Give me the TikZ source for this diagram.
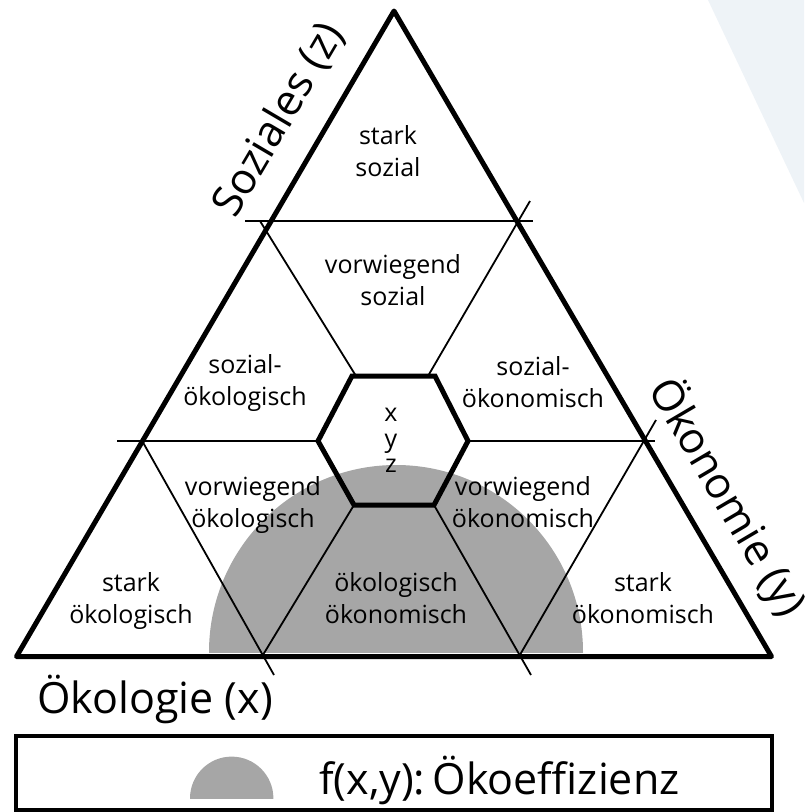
\documentclass[tikz,border=0pt]{standalone}
\usepackage{fontspec}
\setmainfont{Open Sans}
\definecolor{semigray}{HTML}{A6A6A6}
\definecolor{bgblue}{HTML}{EEF3F7}
\begin{document}
\begin{tikzpicture}[x=1pt,y=-1pt,
  thinline/.style={line width=1.8pt, line cap=butt},
  edgeline/.style={line width=5pt, line join=round},
  hexline/.style={line width=5pt, line join=miter},
  cell/.style={font=\fontsize{25}{32}\selectfont, align=center, inner sep=0pt},
  xyzcell/.style={font=\fontsize{25}{25.6}\selectfont, align=center, inner sep=0pt},
  axislabel/.style={font=\fontsize{43}{50}\selectfont, inner sep=0pt}]
\useasboundingbox (0,0) rectangle (804,812);
% background shape
\fill[bgblue] (708,0) -- (804,0) -- (804,203) -- cycle;
% gray half disc
\begin{scope}
  \clip (0,0) rectangle (804,652);
  \fill[semigray] (396,652) circle[radius=187];
\end{scope}
% hexagon corners
\coordinate (hL) at (318,441);
\coordinate (hTL) at (352,376);
\coordinate (hTR) at (435,376);
\coordinate (hR) at (468,441);
\coordinate (hBR) at (434,505);
\coordinate (hBL) at (354,505);
% thin grid lines
\draw[thinline] (245,221) -- (533,221);
\draw[thinline] (117,441) -- (hL);
\draw[thinline] (hR) -- (655,441);
\draw[thinline] (260,221) -- (356,376);
\draw[thinline] (hBR) -- (531,675);
\draw[thinline] (530,201) -- (428,376);
\draw[thinline] (hBL) -- (262,656.5);
\draw[thinline] (142.2,441) -- (274,675);
\draw[thinline] (519,656.5) -- (656,420);
% triangle
\draw[edgeline] (394,11) -- (16.5,656.5) -- (771.5,656.5) -- cycle;
% hexagon
\draw[hexline] (hL) -- (hTL) -- (hTR) -- (hR) -- (hBR) -- (hBL) -- cycle;
% cell labels
\node[cell] (starksozial) at (388,154) {\strut stark\\\strut sozial};
\node[cell] (vorwsozial) at (393,283) {\strut vorwiegend\\\strut sozial};
\node[cell] (sozoekol) at (245,383) {\strut sozial-\\\strut ökologisch};
\node[cell] (sozoekon) at (533,385) {\strut sozial-\\\strut ökonomisch};
\node[xyzcell] (xyz) at (391,442) {\strut x\\\strut y\\\strut z};
\node[cell] (vorwoekol) at (253,505) {\strut vorwiegend\\\strut ökologisch};
\node[cell] (vorwoekon) at (523,505) {\strut vorwiegend\\\strut ökonomisch};
\node[cell] (starkoekol) at (131,601) {\strut stark\\\strut ökologisch};
\node[cell] (oekoeko) at (396,601) {\strut ökologisch\\\strut ökonomisch};
\node[cell] (starkoekon) at (643,601) {\strut stark\\\strut ökonomisch};
% axis labels
\node[axislabel, rotate=59.5] (soziales) at (279,120) {Soziales (z)};
\node[axislabel, rotate=-59.5] (oekonomie) at (727,497) {Ökonomie (y)};
\node[axislabel, anchor=base west] (oekologie) at (37,713) {Ökologie (x)};
% legend
\draw[line width=4.5pt] (16,736) rectangle (772,810);
\begin{scope}
  \clip (0,700) rectangle (804,798.3);
  \fill[semigray] (231.7,798.3) circle[radius=41.7];
\end{scope}
\node[axislabel, anchor=base west] (legendtext) at (319,794) {f(x,y):\kern-4pt\ Ökoeffizienz};
\end{tikzpicture}
\end{document}
